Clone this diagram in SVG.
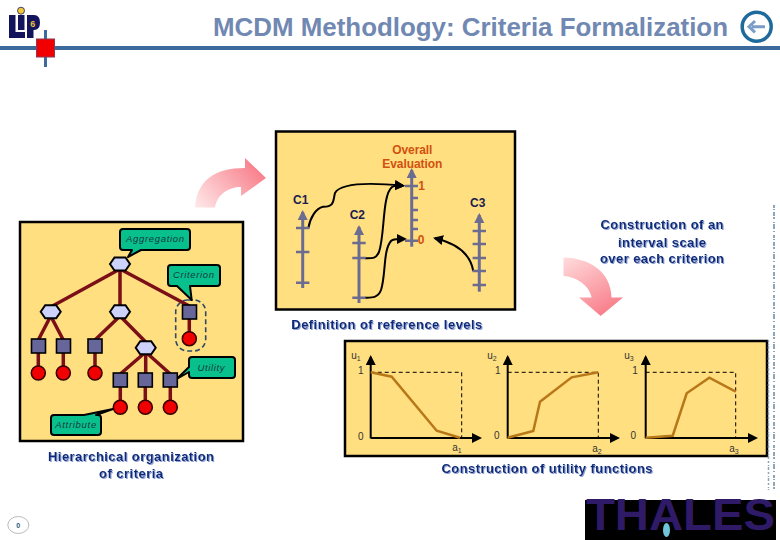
<svg xmlns="http://www.w3.org/2000/svg" width="780" height="540" viewBox="0 0 780 540">
<style>
text{font-family:"Liberation Sans",Arial,sans-serif}
.panel{fill:#ffdf80;stroke:#000;stroke-width:2.5}
.cap{font-size:13px;font-weight:bold;fill:#0c2a78;text-anchor:middle;filter:url(#sh)}
.call{fill:#08c08c;stroke:#000;stroke-width:2;stroke-linejoin:round}
.ct{font-size:9.5px;font-style:italic;fill:#143c40;text-anchor:middle}
.hex{fill:#ccd2fa;stroke:#000;stroke-width:2}
.sq{fill:#66669a;stroke:#000;stroke-width:1.6}
.dot{fill:#f00000;stroke:#3a0000;stroke-width:1.6}
.lk{stroke:#7a0f18;stroke-width:3.5;fill:none}
.ax{stroke:#6c6c90;stroke-width:3;fill:none}
.tk{stroke:#6c6c90;stroke-width:2.6;fill:none}
.cv{stroke:#000;stroke-width:2;fill:none}
.or{font-size:12px;font-weight:bold;fill:#d2500f;text-anchor:middle}
.cl{font-size:12px;font-weight:bold;fill:#1c1c50;text-anchor:middle}
.a2{stroke:#000;stroke-width:2;fill:none}
.ds{stroke:#000;stroke-width:1;stroke-dasharray:4 3;fill:none}
.u{stroke:#b87818;stroke-width:2.5;fill:none}
.lb{font-size:10px;fill:#333;text-anchor:middle}
.sb{font-size:7px}
.tiny{stroke:#8fa4b4;fill:none}
</style>
<defs>
<filter id="sh" x="-5%" y="-20%" width="110%" height="140%"><feDropShadow dx="1" dy="1" stdDeviation="0.4" flood-color="#8ea2d8"/></filter>
<linearGradient id="g1" x1="0" y1="1" x2="1" y2="0.4"><stop offset="0" stop-color="#ffeaea"/><stop offset="1" stop-color="#f8808c"/></linearGradient>
<linearGradient id="g2" x1="0" y1="0" x2="0.6" y2="1"><stop offset="0" stop-color="#ffdcdc"/><stop offset="1" stop-color="#f8808c"/></linearGradient>
<marker id="ah" viewBox="0 0 10 10" refX="8" refY="5" markerWidth="5" markerHeight="5" orient="auto" markerUnits="strokeWidth"><path d="M0 0L10 5L0 10Z" fill="#000"/></marker>
<marker id="ag" viewBox="0 0 10 10" refX="8" refY="5" markerWidth="3.4" markerHeight="3.6" orient="auto" markerUnits="strokeWidth"><path d="M0 0L10 5L0 10Z" fill="#6c6c90"/></marker>
</defs>

<g id="header">
<rect x="0" y="46" width="780" height="4" fill="#3c6a9c"/>
<rect x="44" y="30" width="3" height="37" fill="#3c6a9c"/>
<rect x="36.500" y="39" width="18" height="18" fill="#f00000" stroke="#8a3a55" stroke-width="1"/>
<text x="213" y="36" font-size="26" font-weight="bold" fill="#7088b2" textLength="515" lengthAdjust="spacingAndGlyphs">MCDM Methodlogy: Criteria Formalization</text>
</g>
<g id="logo">
<circle cx="21" cy="10.700" r="3.500" fill="#f2c838" stroke="#1a1a60" stroke-width="0.8"/>
<path d="M9 15H15.500V32H25V38H9Z M18 15H24.500V30H18Z M27 15H34Q40 15 40 22.500Q40 30 34 30H33.500V38H27Z" fill="#14145c"/>
<text x="32.700" y="27" font-size="9" font-weight="bold" fill="#e8c040" text-anchor="middle">6</text>
</g>
<g id="back">
<circle cx="756.700" cy="26.700" r="14.500" fill="#fff" stroke="#1f6a9c" stroke-width="3.500"/>
<path d="M765 26.700H752M755 21L749 26.700L755 32.400" fill="none" stroke="#7a9cc6" stroke-width="3"/>
</g>

<g id="arrow-top"><path d="M195 207.500C197 180 215 168 245 168L245 158L266 178L241 196L241 187C228 187 217 195 215 207.500Z" fill="url(#g1)"/></g>
<g id="arrow-right"><path d="M563.500 257.500C590 258 611 272 611.500 297.500L623 297.500L600.700 316L579 297.500L591.500 297.500C590 287 578 277 563.500 276Z" fill="url(#g2)"/></g>

<g id="panel-hierarchy">
<rect class="panel" x="20" y="222" width="223" height="219"/>
<rect x="175.700" y="300" width="30" height="51" rx="12" fill="none" stroke="#2f4a68" stroke-width="1.600" stroke-dasharray="5 3"/>
</g>
<g id="panel-levels"><rect class="panel" x="276" y="131.500" width="239" height="178"/></g>
<g id="panel-utility"><rect class="panel" x="345" y="341" width="422" height="115"/></g>

<g id="connectors">
<path class="lk" d="M120 269L50.700 307M120 269V306M120 269L189.300 306M50.700 316L38.300 340M50.700 316L63.300 340M120 316L95 340M120 316L145.700 342M145.700 352L120.300 374M145.700 352V374M145.700 352L170.300 374M189.300 318V332M38.300 352V366M63.300 352V366M95 352V366M120.300 386V400M145.300 386V400M170.300 386V400"/>
<path class="cv" marker-end="url(#ah)" d="M308.300 228.300C310 218 316 208 323 206.700C335 207 333 200 335 193C340 184 365 182 403 185.700"/>
<path class="cv" marker-end="url(#ah)" d="M365 258.300C372 258.300 376 259 379 252C385 235 382 195 392 187C395 185 398 185.500 403 185.700"/>
<path class="cv" marker-end="url(#ah)" d="M365 297.700C372 297.500 378 298 381 290C386 275 383 250 391 241C394 238 398 239 405 239"/>
<path class="cv" marker-end="url(#ah)" d="M473.300 271C470 252 455 243 435 238.300"/>
</g>

<g id="node-aggregation"><path class="call" d="M123 229H187Q190 229 190 232V247Q190 250 187 250H141L128 257L132 250H123Q120 250 120 247V232Q120 229 123 229Z"/><text class="ct" x="155" y="242" textLength="58">Aggregation</text></g>
<g id="node-criterion-callout"><path class="call" d="M171 265H217Q220 265 220 268V283Q220 286 217 286H190L191.700 300L177 286H171Q168 286 168 283V268Q168 265 171 265Z"/><text class="ct" x="193.500" y="278" textLength="41">Criterion</text></g>
<g id="node-utility-callout"><path class="call" d="M192 357H232Q235 357 235 360V375Q235 378 232 378H192Q189 378 189 375V372L176.700 379L189 367V360Q189 357 192 357Z"/><text class="ct" x="211" y="371" textLength="27">Utility</text></g>
<g id="node-attribute-callout"><path class="call" d="M54 415H84L113 409L96 415H98Q101 415 101 418V432Q101 435 98 435H54Q51 435 51 432V418Q51 415 54 415Z"/><text class="ct" x="75.700" y="428" textLength="41">Attribute</text></g>

<g id="node-root"><polygon class="hex" points="110,264 114.500,257.500 125.500,257.500 130,264 125.500,270.500 114.500,270.500"/></g>
<g id="node-h1"><polygon class="hex" points="40.700,311.700 45.200,305.200 56.200,305.200 60.700,311.700 56.200,318.200 45.200,318.200"/></g>
<g id="node-h2"><polygon class="hex" points="110,311.700 114.500,305.200 125.500,305.200 130,311.700 125.500,318.200 114.500,318.200"/></g>
<g id="node-h3"><polygon class="hex" points="135.700,347.700 140.200,341.200 151.200,341.200 155.700,347.700 151.200,354.200 140.200,354.200"/></g>
<g id="node-s1"><rect class="sq" x="182.500" y="305" width="14" height="14"/><ellipse class="dot" cx="189.300" cy="338.700" rx="7" ry="7"/></g>
<g id="node-s2"><rect class="sq" x="31.500" y="339" width="14" height="14"/><ellipse class="dot" cx="38.300" cy="373" rx="7" ry="7"/></g>
<g id="node-s3"><rect class="sq" x="56.500" y="339" width="14" height="14"/><ellipse class="dot" cx="63.300" cy="373" rx="7" ry="7"/></g>
<g id="node-s4"><rect class="sq" x="88" y="339" width="14" height="14"/><ellipse class="dot" cx="95" cy="373" rx="7" ry="7"/></g>
<g id="node-s5"><rect class="sq" x="113.300" y="373" width="14" height="14"/><ellipse class="dot" cx="120.300" cy="407.300" rx="7" ry="7"/></g>
<g id="node-s6"><rect class="sq" x="138.300" y="373" width="14" height="14"/><ellipse class="dot" cx="145.300" cy="407.300" rx="7" ry="7"/></g>
<g id="node-s7"><rect class="sq" x="163.300" y="373" width="14" height="14"/><ellipse class="dot" cx="170.300" cy="407.300" rx="7" ry="7"/></g>

<text class="cap" x="131" y="461" textLength="166">Hierarchical organization</text>
<text class="cap" x="131" y="478" textLength="64">of criteria</text>

<g id="scale-overall">
<text class="or" x="412.300" y="153.500" textLength="40">Overall</text>
<text class="or" x="412.300" y="168" textLength="60">Evaluation</text>
<path class="ax" marker-end="url(#ag)" d="M411.700 246.700V170"/>
<path class="tk" d="M405 186H418M411.700 198H418M411.700 210H418M411.700 220H418M411.700 229H418M405 240.700H418"/>
<text class="or" x="421.700" y="190">1</text>
<text class="or" x="421" y="243.500">0</text>
</g>
<g id="scale-c1">
<text class="cl" x="300.700" y="204">C1</text>
<path class="ax" marker-end="url(#ag)" d="M302.700 288V212"/>
<path class="tk" d="M296 228H309.400M296 252H309.400M296 282.700H309.400"/>
</g>
<g id="scale-c2">
<text class="cl" x="357.300" y="219">C2</text>
<path class="ax" marker-end="url(#ag)" d="M359 303V227"/>
<path class="tk" d="M352.300 243H365.700M352.300 258H365.700M352.300 297.700H365.700"/>
</g>
<g id="scale-c3">
<text class="cl" x="477.700" y="207">C3</text>
<path class="ax" marker-end="url(#ag)" d="M479.300 291.700V215"/>
<path class="tk" d="M472.600 231H486M472.600 244H486M472.600 258H486M472.600 271H486M472.600 285H486"/>
</g>

<text class="cap" x="386.800" y="329" textLength="191">Definition of reference levels</text>
<text class="cap" x="662" y="229.300" textLength="123">Construction of an</text>
<text class="cap" x="662" y="246.700" textLength="88">interval scale</text>
<text class="cap" x="662" y="262.700" textLength="124">over each criterion</text>

<g id="chart-1">
<path class="ds" d="M370.700 372.300H461.700V438"/>
<path class="a2" marker-end="url(#ah)" d="M370.700 438.300V357"/>
<path class="a2" marker-end="url(#ah)" d="M370.700 438H480"/>
<polyline class="u" points="370.700,372.300 391.700,376.700 436.700,430.700 460,437.700"/>
<text class="lb" x="356" y="359">u<tspan class="sb" dy="2">1</tspan></text>
<text class="lb" x="360.700" y="374">1</text>
<text class="lb" x="360.700" y="439.500">0</text>
<text class="lb" x="457" y="451">a<tspan class="sb" dy="2">1</tspan></text>
</g>
<g id="chart-2">
<path class="ds" d="M507.700 372.300H598.300V438"/>
<path class="a2" marker-end="url(#ah)" d="M507.700 438.300V357"/>
<path class="a2" marker-end="url(#ah)" d="M507.700 438H618"/>
<polyline class="u" points="507.700,437.700 533.300,431 540,401.700 571.700,377.300 598.300,372.300"/>
<text class="lb" x="492" y="359">u<tspan class="sb" dy="2">2</tspan></text>
<text class="lb" x="497.700" y="374">1</text>
<text class="lb" x="496.700" y="438.500">0</text>
<text class="lb" x="597" y="452">a<tspan class="sb" dy="2">2</tspan></text>
</g>
<g id="chart-3">
<path class="ds" d="M645.700 372.300H735.700V438"/>
<path class="a2" marker-end="url(#ah)" d="M645.700 438.300V357"/>
<path class="a2" marker-end="url(#ah)" d="M645.700 438H756"/>
<polyline class="u" points="645.700,437.700 672.700,435.700 686.700,393.300 709.300,377.700 735.700,391.700"/>
<text class="lb" x="629" y="359">u<tspan class="sb" dy="2">3</tspan></text>
<text class="lb" x="635" y="374">1</text>
<text class="lb" x="633.300" y="438.500">0</text>
<text class="lb" x="734" y="452">a<tspan class="sb" dy="2">3</tspan></text>
</g>
<text class="cap" x="547" y="473.300" textLength="211">Construction of utility functions</text>

<g id="side-marks">
<path class="tiny" stroke-width="2" stroke-dasharray="3 1 1 2 4 1 2 3 1 1 5 2 1 3" d="M774 205V490"/>
<path class="tiny" stroke-width="1.500" stroke-dasharray="2 2 1 1 3 2" d="M768.500 340V490"/>
</g>

<g id="page"><ellipse cx="18.300" cy="525" rx="10.500" ry="8.500" fill="#fff" stroke="#bbb" stroke-width="1"/><text x="18.300" y="527.500" font-size="7" font-weight="bold" fill="#2a5a78" text-anchor="middle">0</text></g>

<g id="thales">
<rect x="585" y="500" width="191" height="40" fill="#000"/>
<text x="586" y="530" font-size="44" font-weight="bold" fill="#2e1a66" textLength="189" lengthAdjust="spacingAndGlyphs">THALES</text>
<ellipse cx="666.500" cy="530" rx="3.500" ry="7" fill="#6fc4d8"/>
</g>
</svg>
